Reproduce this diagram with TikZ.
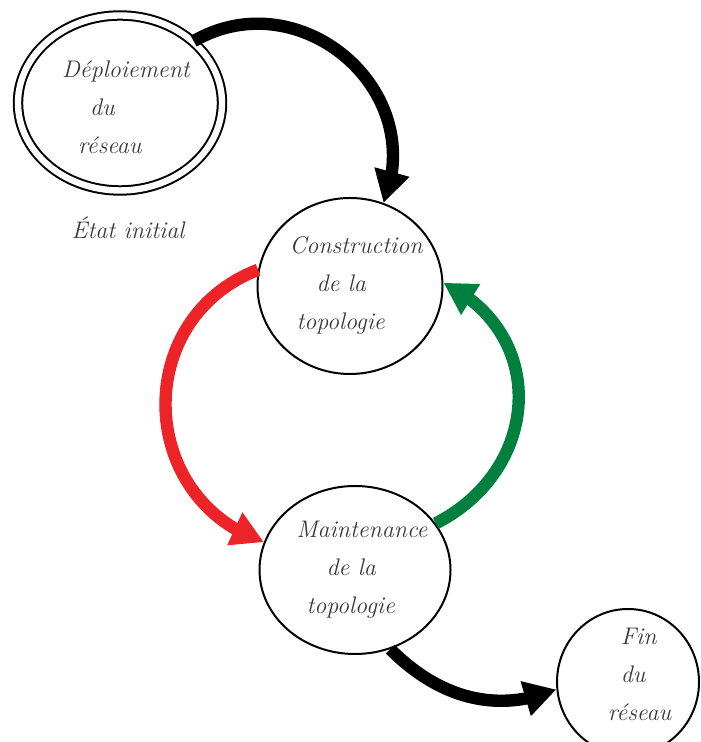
\documentclass[tikz,border=0pt]{standalone}
\usetikzlibrary{shapes.geometric,arrows.meta,bending}

\definecolor{rouge}{RGB}{237,36,39}
\definecolor{vert}{RGB}{0,128,62}

\tikzset{
  etat/.style={ellipse, draw, line width=1pt, inner sep=0pt},
  texte/.style={font=\large\itshape, text=black!78, align=left, inner sep=0pt},
  fleche/.style={line width=6.2pt, -{Triangle[length=16pt,width=17pt,flex]}},
}

\begin{document}
\begin{tikzpicture}[x=0.5pt, y=0.5pt]
  \useasboundingbox (0,0) rectangle (700,742);

  % Etats du cycle de vie
  \node[etat, double, double distance=3.2pt, minimum width=102pt, minimum height=87.5pt,
    label={[texte, yshift=-2pt]center:{\hspace*{6pt}D\'eploiement\\[5pt]\hspace*{20pt}du\\[5pt]\hspace*{14pt}r\'eseau}}] (deploi) at (120,639) {};
  \node[etat, minimum width=92.5pt, minimum height=88pt,
    label={[texte]center:{\hspace*{6pt}Construction\\[5pt]\hspace*{19.5pt}de la\\[5pt]\hspace*{9.5pt}topologie}}] (constr) at (350,456) {};
  \node[etat, minimum width=95.5pt, minimum height=84pt,
    label={[texte]center:{\hspace*{7pt}Maintenance\\[5pt]\hspace*{22pt}de la\\[5pt]\hspace*{12pt}topologie}}] (maint) at (355,172) {};
  \node[etat, minimum width=71pt, minimum height=73pt,
    label={[texte, yshift=4pt]center:{\hspace*{18pt}Fin\\[5pt]\hspace*{18pt}du\\[5pt]\hspace*{11.5pt}r\'eseau}}] (fin) at (628,60) {};

  % Etiquette
  \node[texte] (init) at (128,514) {\'Etat initial};

  % Transitions
  \draw[fleche] (deploi.40) to[out=30, in=68, looseness=1.25] (constr.68);
  \draw[fleche, rouge] (constr.170) to[out=201, in=161, looseness=1.27] (maint.163);
  \draw[fleche, vert] (maint.30) to[out=27, in=-26, looseness=1.25] (constr.2);
  \draw[fleche] (maint.-66) to[out=-45, in=202, looseness=1] (fin.186);
\end{tikzpicture}
\end{document}
